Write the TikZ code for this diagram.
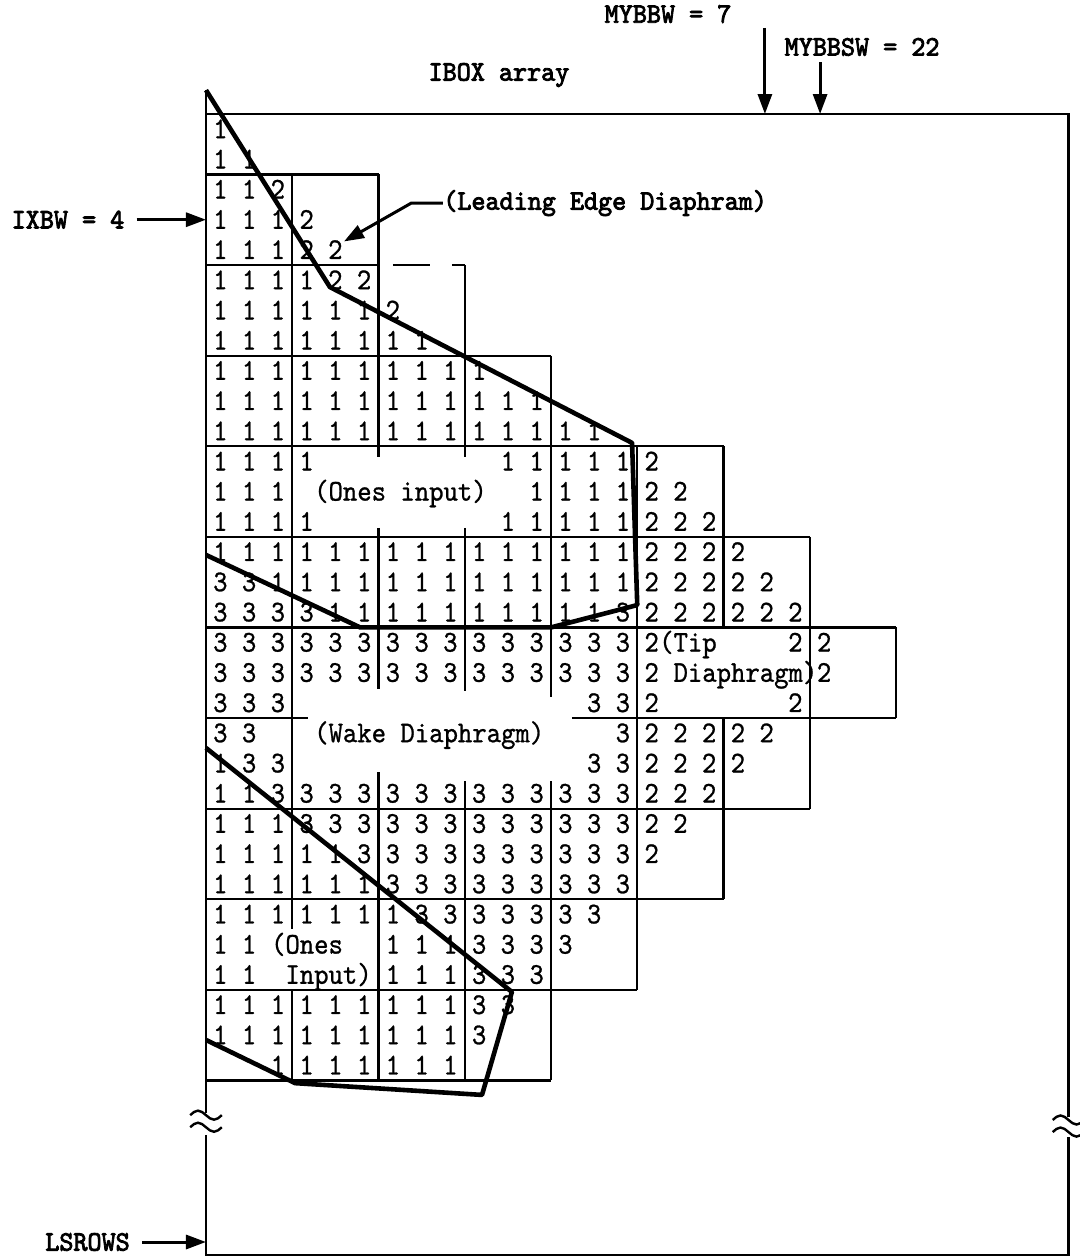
\documentclass[tikz,border=0pt]{standalone}
\usepackage{fontspec}
\usetikzlibrary{arrows.meta}
\newfontfamily\gridfont{lmmono10-regular.otf}[FakeBold=0.9]
\newfontfamily\tagfont{lmmono10-regular.otf}[FakeBold=3]
\newcommand{\gridtype}[1]{\scalebox{1}[1.1]{#1}}
\newcommand{\tagtype}[1]{\scalebox{1}[1.05]{#1}}
\tikzset{
    boxline/.style={line width=1.1pt},
    frameline/.style={line width=1.2pt},
    wingline/.style={line width=2.3pt,line join=round},
    digitnode/.style={font=\gridfont\fontsize{13.69}{16}\selectfont,inner sep=0pt,anchor=base},
    notenode/.style={digitnode,anchor=base west},
    tagnode/.style={font=\tagfont\fontsize{13.4}{16}\selectfont,inner sep=0pt},
    pointer/.style={line width=1.5pt,-{Triangle[length=10pt,width=7pt]}},
    brk/.pic={
        \draw[frameline] (-0.55,0) sin (-0.28,-0.15) cos (0,0) sin (0.28,0.15) cos (0.55,0);
        \draw[frameline] (-0.55,0.4) sin (-0.28,0.25) cos (0,0.4) sin (0.28,0.55) cos (0.55,0.4);
    }
}
\begin{document}
\begin{tikzpicture}[x=14.375pt,y=-15.1pt]
        \useasboundingbox (-7.165,-3.775) rectangle (30.365,37.88);
        %% IBOX frame
        \draw[frameline] (0,-0.79) -- (0,33.08);
        \draw[frameline] (0,33.81) -- (0,37.78) -- (30,37.78) -- (30,33.87);
        \draw[frameline] (30,33.21) -- (30,0) -- (0,0);
        \pic at (0,33.15) {brk};
        \pic at (30,33.31) {brk};
        %% Block boundaries
        \foreach \r/\a/\b in {2/0/6, 5/0/6, 5/6.5/7.8, 5/8.55/9, 8/0/12, 11/0/18,
            14/0/21, 17/0/24, 20/0/3.55, 20/12.73/24, 23/0/21, 26/0/18, 29/0/15, 32/0/12}
            \draw[boxline] (\a,\r) -- (\b,\r);
        \foreach \c/\a/\b in {3/2/27, 3/29/32, 6/2/11.35, 6/13.7/19.05, 6/21.8/32,
            9/5/11.35, 9/13.7/19.1, 9/22.1/32, 12/8/19.3, 12/22.1/32, 15/11/29,
            18/11/17, 18/20/26, 21/14/23, 24/17/20}
            \draw[boxline] (\c,\a) -- (\c,\b);
        %% Cell values
        \foreach \r/\cells in {
            0/{1},
            1/{1,1},
            2/{1,1,2},
            3/{1,1,1,2},
            4/{1,1,1,2,2},
            5/{1,1,1,1,2,2},
            6/{1,1,1,1,1,1,2},
            7/{1,1,1,1,1,1,1,1},
            8/{1,1,1,1,1,1,1,1,1,1},
            9/{1,1,1,1,1,1,1,1,1,1,1,1},
            10/{1,1,1,1,1,1,1,1,1,1,1,1,1,1},
            11/{1,1,1,1,-,-,-,-,-,-,1,1,1,1,1,2},
            12/{1,1,1,-,-,-,-,-,-,-,-,1,1,1,1,2,2},
            13/{1,1,1,1,-,-,-,-,-,-,1,1,1,1,1,2,2,2},
            14/{1,1,1,1,1,1,1,1,1,1,1,1,1,1,1,2,2,2,2},
            15/{3,3,1,1,1,1,1,1,1,1,1,1,1,1,1,2,2,2,2,2},
            16/{3,3,3,3,1,1,1,1,1,1,1,1,1,1,3,2,2,2,2,2,2},
            17/{3,3,3,3,3,3,3,3,3,3,3,3,3,3,3,2,-,-,-,-,2,2},
            18/{3,3,3,3,3,3,3,3,3,3,3,3,3,3,3,2,-,-,-,-,-,2},
            19/{3,3,3,-,-,-,-,-,-,-,-,-,-,3,3,2,-,-,-,-,2},
            20/{3,3,-,-,-,-,-,-,-,-,-,-,-,-,3,2,2,2,2,2},
            21/{1,3,3,-,-,-,-,-,-,-,-,-,-,3,3,2,2,2,2},
            22/{1,1,3,3,3,3,3,3,3,3,3,3,3,3,3,2,2,2},
            23/{1,1,1,3,3,3,3,3,3,3,3,3,3,3,3,2,2},
            24/{1,1,1,1,1,3,3,3,3,3,3,3,3,3,3,2},
            25/{1,1,1,1,1,1,3,3,3,3,3,3,3,3,3},
            26/{1,1,1,1,1,1,1,3,3,3,3,3,3,3},
            27/{1,1,-,-,-,-,1,1,1,3,3,3,3},
            28/{1,1,-,-,-,-,1,1,1,3,3,3},
            29/{1,1,1,1,1,1,1,1,1,3,3},
            30/{1,1,1,1,1,1,1,1,1,3},
            31/{-,-,1,1,1,1,1,1,1}}{
            \foreach \v [count=\i from 0] in \cells {
                \if\v-\else
                    \node[digitnode] (d\r-\i) at (\i+0.5,\r+0.8) {\gridtype{\v}};
                \fi
            }
        }
        %% Notes inside the array
        \node[notenode] (onesA) at (3.75,12.8) {\gridtype{(Ones input)}};
        \node[notenode] (tipA) at (15.75,17.8) {\gridtype{(Tip}};
        \node[notenode] (tipB) at (16.25,18.8) {\gridtype{Diaphragm)}};
        \node[notenode] (wake) at (3.75,20.8) {\gridtype{(Wake Diaphragm)}};
        \node[notenode] (onesB) at (2.25,27.8) {\gridtype{(Ones}};
        \node[notenode] (onesC) at (2.75,28.8) {\gridtype{Input)}};
        %% Wing outlines
        \draw[wingline] (0,-0.79) -- (4.31,5.73) -- (14.82,10.89) -- (15,16.26)
            -- (12,17) -- (5.36,17) -- (0,14.6);
        \draw[wingline] (0,20.99) -- (10.64,29.07) -- (9.6,32.48) -- (3.1,32.09) -- (0,30.66);
        %% Labels
        \node[tagnode] (mybbw) at (16.07,-3.31) {\tagtype{MYBBW = 7}};
        \node[tagnode] (mybbsw) at (22.82,-2.22) {\tagtype{MYBBSW = 22}};
        \node[tagnode] (ibox) at (10.19,-1.29) {\tagtype{IBOX array}};
        \node[tagnode] (ixbw) at (-4.8,3.5) {\tagtype{IXBW = 4}};
        \node[tagnode,anchor=west] (lead) at (8.24,2.95) {\tagtype{(Leading Edge Diaphram)}};
        \node[tagnode] (lsrows) at (-4.12,37.35) {\tagtype{LSROWS}};
        %% Pointers
        \coordinate (mybbwtop) at (19.44,-2.85);
        \coordinate (mybbwtip) at (19.44,0);
        \coordinate (mybbswtop) at (21.36,-1.72);
        \coordinate (mybbswtip) at (21.36,0);
        \coordinate (ixbwtip) at (0,3.5);
        \coordinate (lsrowstip) at (0,37.35);
        \coordinate (leadtip) at (4.8,4.22);
        \draw[pointer] (mybbwtop) -- (mybbwtip);
        \draw[pointer] (mybbswtop) -- (mybbswtip);
        \draw[pointer] ([xshift=6pt]ixbw.east) -- (ixbwtip);
        \draw[pointer] ([xshift=6pt]lsrows.east) -- (lsrowstip);
        \draw[pointer] (lead.west) --++ (-1.1,0) -- (leadtip);
    \end{tikzpicture}
\end{document}
